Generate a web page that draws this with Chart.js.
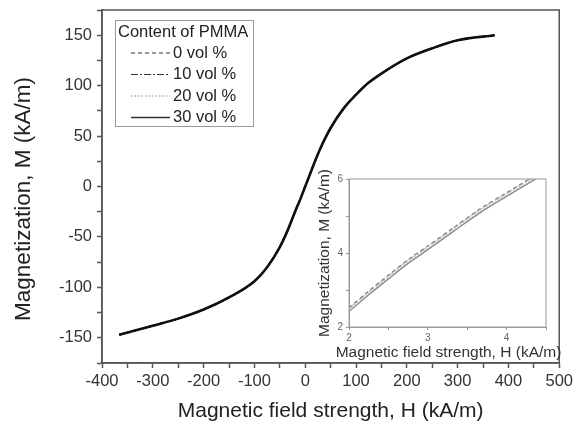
<!DOCTYPE html>
<html><head><meta charset="utf-8">
<script src="https://cdn.jsdelivr.net/npm/chart.js@4"></script>
<style>
html,body{margin:0;padding:0;background:#fff}
#wrap{position:relative;width:577px;height:427px;background:#fff}
#main{position:absolute;left:0;top:0}
#inset{position:absolute;left:310px;top:170px}
</style></head><body>
<div id="wrap"><canvas id="main" width="577" height="427"></canvas><canvas id="inset" width="262" height="200"></canvas></div>
<script>
// ---- data ----
const seriesNames = ['0 vol %', '10 vol %', '20 vol %', '30 vol %'];
const legendTitle = 'Content of PMMA';
const fieldH = [-366,-300,-250,-200,-150,-100,-75,-50,-35,-20,-10,0,10,20,30,50,75,100,125,150,200,250,300,373];
const magM0  = [-147,-138,-131,-122,-110,-94,-80,-60,-44,-25,-13,0,13,26,38,58,77,91,103,112,127,137,145,150];
const magM10 = [-147,-138,-131,-122,-110,-94,-80,-60,-44,-25,-13,0,13,26,38,58,77,91,103,112,127,137,145,150];
const magM20 = [-147,-138,-131,-122,-110,-94,-80,-60,-44,-25,-13,0,13,26,38,58,77,91,103,112,127,137,145,150];
const magM30 = [-147,-138,-131,-122,-110,-94,-80,-60,-44,-25,-13,0,13,26,38,58,77,91,103,112,127,137,145,150];
const xTickLabels = [-400,-300,-200,-100,0,100,200,300,400,500];
const yTickLabels = [-150,-100,-50,0,50,100,150];

// inset (zoom near low field)
const insetH   = [2.0, 2.25, 2.5, 2.75, 3.0, 3.33, 3.67, 4.0, 4.4];
const insetM0  = [2.52, 2.97, 3.40, 3.82, 4.19, 4.69, 5.20, 5.63, 6.14];
const insetM10 = [2.50, 2.95, 3.38, 3.80, 4.17, 4.67, 5.18, 5.61, 6.12];
const insetM20 = [2.47, 2.92, 3.35, 3.77, 4.14, 4.64, 5.15, 5.58, 6.09];
const insetM30 = [2.42, 2.87, 3.30, 3.72, 4.09, 4.59, 5.10, 5.53, 6.04];
const insetXTicks = [2,3,4];
const insetYTicks = [2,4,6];
const insetXTitle = 'Magnetic field strength, H (kA/m)';

const FONT = "'Liberation Sans', Arial, sans-serif";
const pts = (xs, ys) => xs.map((x, i) => ({x, y: ys[i]}));
const mainSeries = [magM0, magM10, magM20, magM30];
const insetSeries = [insetM0, insetM10, insetM20, insetM30];
const dashes = [[4,3],[7,2,2,2],[1.5,2],[]];

const boxPlugin = (color, width) => ({
  id: 'box',
  afterDraw(chart) {
    const a = chart.chartArea, c = chart.ctx;
    c.save(); c.strokeStyle = color; c.lineWidth = width;
    c.strokeRect(a.left, a.top, a.right - a.left, a.bottom - a.top);
    c.restore();
  }
});

const legendPlugin = {
  id: 'boxLegend',
  afterDraw(chart) {
    const a = chart.chartArea, c = chart.ctx;
    const x0 = a.left + 13, y0 = a.top + 10, w = 138, h = 106;
    c.save();
    c.fillStyle = '#fff'; c.fillRect(x0, y0, w, h);
    c.strokeStyle = '#9a9a9a'; c.lineWidth = 1;
    c.strokeRect(x0 + 0.5, y0 + 0.5, w, h);
    c.fillStyle = '#222'; c.font = '16.5px ' + FONT; c.textBaseline = 'middle';
    c.fillText(legendTitle, x0 + 3, y0 + 12);
    chart.data.datasets.forEach((ds, i) => {
      const y = y0 + 33 + i * 21.5;
      c.beginPath(); c.setLineDash(ds.borderDash || []);
      c.strokeStyle = i === 2 ? '#888' : '#333'; c.lineWidth = i === 3 ? 1.5 : 1.2;
      c.moveTo(x0 + 16, y); c.lineTo(x0 + 55, y); c.stroke();
      c.setLineDash([]);
      c.fillText(ds.label, x0 + 58, y);
    });
    c.restore();
  }
};

const insetTitlePlugin = {
  id: 'insetXTitle',
  afterDraw(chart) {
    const a = chart.chartArea, c = chart.ctx;
    c.save();
    c.fillStyle = '#333'; c.font = '15.5px ' + FONT;
    c.textAlign = 'center'; c.textBaseline = 'middle';
    c.fillText(insetXTitle, (a.left + a.right) / 2 + 1, a.bottom + 26);
    c.restore();
  }
};

new Chart(document.getElementById('main'), {
  type: 'line',
  data: {
    datasets: seriesNames.map((name, i) => ({
      label: name,
      data: pts(fieldH, mainSeries[i]),
      borderColor: '#111',
      borderWidth: i === 3 ? 2.6 : 1.6,
      borderDash: dashes[i],
      pointRadius: 0,
      cubicInterpolationMode: 'monotone',
      fill: false
    }))
  },
  options: {
    responsive: false, animation: false, devicePixelRatio: 1,
    layout: {padding: {top: 10, right: 15, left: 0, bottom: 0}},
    plugins: {legend: {display: false}, tooltip: {enabled: false}},
    scales: {
      x: {
        type: 'linear', min: -400, max: 500,
        afterFit: s => { s.height = 64; },
        ticks: {stepSize: 50, autoSkip: false, maxRotation: 0, padding: 4, color: '#333',
          font: {family: FONT, size: 16.5},
          callback: v => xTickLabels.includes(v) ? String(v) : ''},
        grid: {drawOnChartArea: false, drawTicks: true, tickLength: 5, tickColor: '#555', tickWidth: 1.5},
        border: {display: true, color: '#555', width: 1.5},
        title: {display: true, text: 'Magnetic field strength, H (kA/m)', color: '#222',
          font: {family: FONT, size: 21}, padding: {top: 0, bottom: 3}}
      },
      y: {
        type: 'linear', min: -175, max: 175,
        afterFit: s => { s.width = 102; s.paddingTop = 0; s.paddingBottom = 0; },
        ticks: {stepSize: 25, autoSkip: false, padding: 5, color: '#333',
          font: {family: FONT, size: 16.5},
          callback: v => yTickLabels.includes(v) ? String(v) : ''},
        grid: {drawOnChartArea: false, drawTicks: true, tickLength: 5, tickColor: '#555', tickWidth: 1.5},
        border: {display: true, color: '#555', width: 1.5},
        title: {display: true, text: 'Magnetization, M (kA/m)\u00a0\u00a0\u00a0\u00a0', color: '#222',
          font: {family: FONT, size: 22.5}, padding: {top: 10, bottom: 0}}
      }
    }
  },
  plugins: [boxPlugin('#555', 1.5), legendPlugin]
});

new Chart(document.getElementById('inset'), {
  type: 'line',
  data: {
    datasets: seriesNames.map((name, i) => ({
      label: name,
      data: pts(insetH, insetSeries[i]),
      borderColor: i === 1 || i === 2 ? '#c8c8c8' : '#8a8a8a',
      borderWidth: 1.4,
      borderDash: dashes[i],
      pointRadius: 0,
      tension: 0.3,
      fill: false
    }))
  },
  options: {
    responsive: false, animation: false, devicePixelRatio: 1,
    layout: {padding: {top: 6, right: 26, left: 0, bottom: 0}},
    plugins: {legend: {display: false}, tooltip: {enabled: false}},
    scales: {
      x: {
        type: 'linear', min: 2, max: 4.5,
        afterFit: s => { s.height = 43; },
        ticks: {stepSize: 0.5, autoSkip: false, maxRotation: 0, padding: 2, color: '#666',
          font: {family: FONT, size: 10},
          callback: v => insetXTicks.includes(v) ? String(v) : ''},
        grid: {drawOnChartArea: false, drawTicks: true, tickLength: 3, tickColor: '#999', tickWidth: 1},
        border: {display: true, color: '#999', width: 1},
        title: {display: false}
      },
      y: {
        type: 'linear', min: 2, max: 6,
        afterFit: s => { s.width = 39; },
        ticks: {stepSize: 1, autoSkip: false, padding: 3, color: '#666',
          font: {family: FONT, size: 10},
          callback: v => insetYTicks.includes(v) ? String(v) : ''},
        grid: {drawOnChartArea: false, drawTicks: true, tickLength: 3, tickColor: '#999', tickWidth: 1},
        border: {display: true, color: '#999', width: 1},
        title: {display: true, text: 'Magnetization, M (kA/m)', color: '#333',
          font: {family: FONT, size: 15.5}, padding: {top: 5, bottom: 0}}
      }
    }
  },
  plugins: [boxPlugin('#999', 1), insetTitlePlugin]
});
</script>
</body></html>
